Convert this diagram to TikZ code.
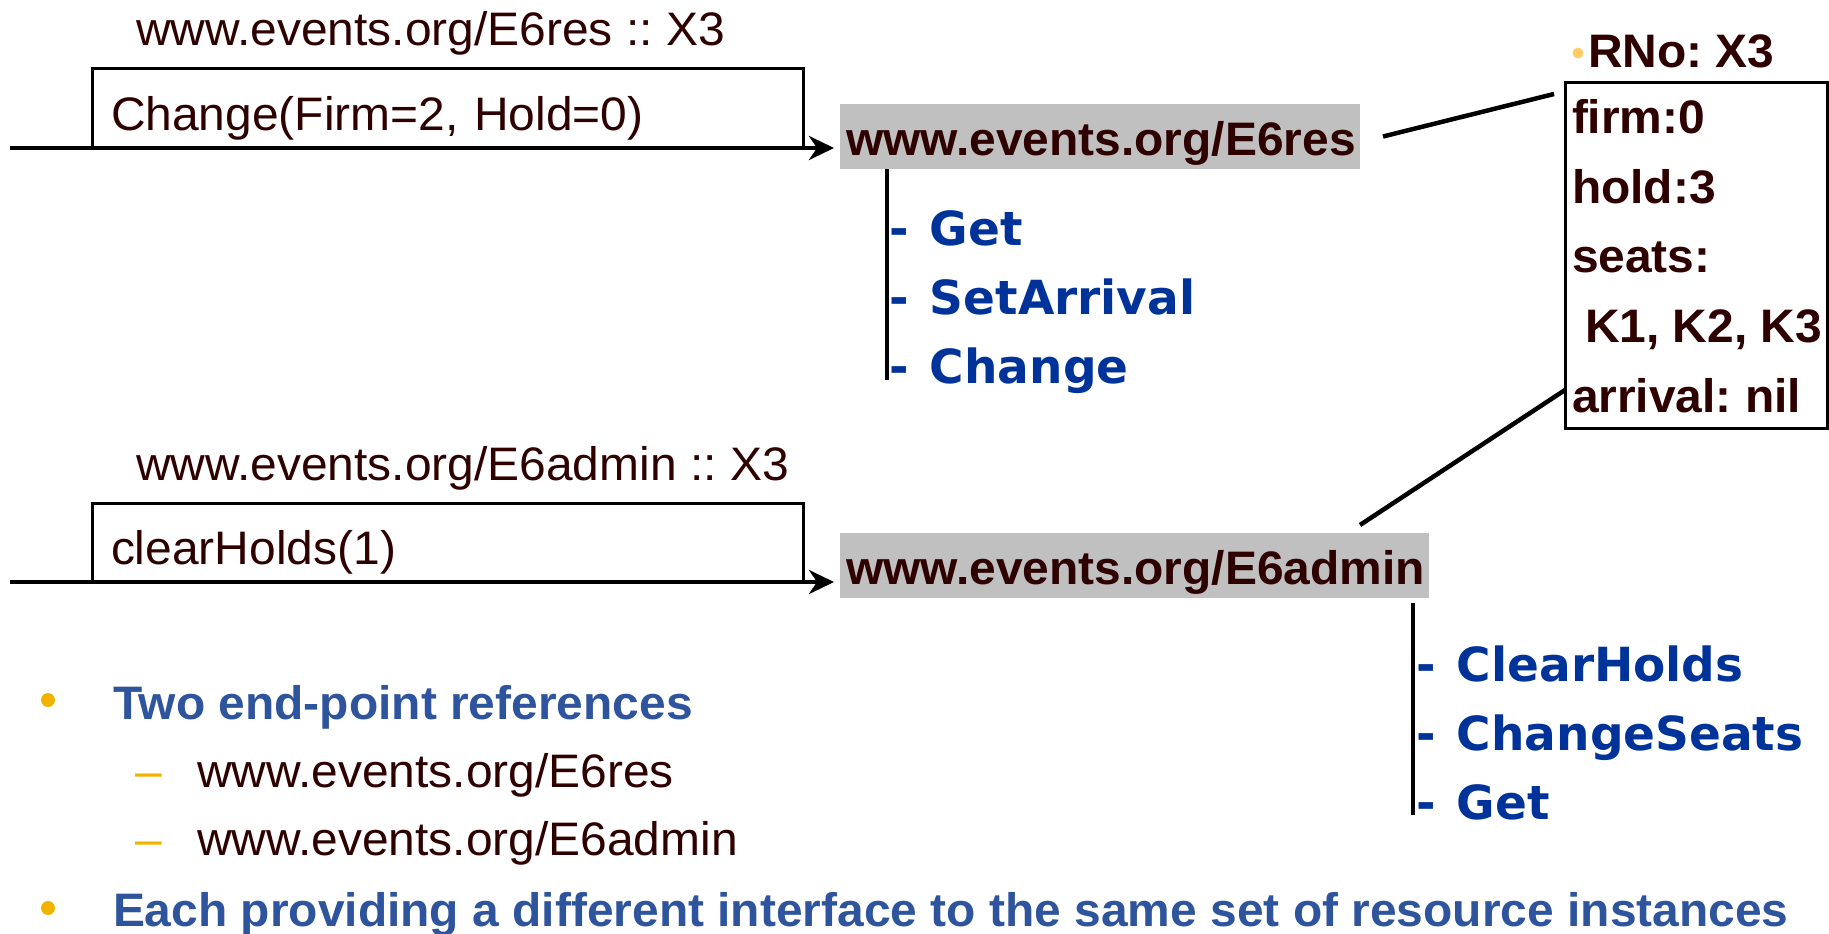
\documentclass[tikz,border=0pt]{standalone}
\usepackage{fontspec}
\setmainfont{Liberation Sans}[FakeStretch=1.02]
\newfontfamily\verd{DejaVu Sans}
\usetikzlibrary{arrows.meta,calc}
\definecolor{ink}{HTML}{2E0000}
\definecolor{refgray}{HTML}{C0C0C0}
\definecolor{opblue}{HTML}{003399}
\definecolor{bulletblue}{HTML}{2D549C}
\definecolor{bulletorange}{HTML}{F2B300}
\definecolor{dotorange}{HTML}{FFCC66}
\frenchspacing

\begin{document}
\begin{tikzpicture}[x=1pt,y=-1pt,
  every node/.style={inner sep=0pt, outer sep=0pt},
  txt/.style={anchor=base west, text=ink, font=\fontsize{47}{56}\selectfont},
  btxt/.style={anchor=base west, text=ink, font=\fontsize{47}{56}\selectfont\bfseries},
  op/.style={anchor=base west, text=opblue, font=\fontsize{47}{56}\selectfont\verd\bfseries},
  bullet/.style={anchor=base west, text=bulletblue, font=\fontsize{47}{56}\selectfont\bfseries},
  dashmark/.style={anchor=base west, text=bulletorange, font=\fontsize{47}{56}\selectfont},
  callbox/.style={draw=black, line width=3pt, anchor=north west, text=ink,
    font=\fontsize{47}{56}\selectfont, align=left, text width=673pt,
    inner xsep=19pt, inner ysep=0pt, text height=61pt, text depth=18pt},
  graybox/.style={fill=refgray, anchor=north west, text=ink,
    font=\fontsize{47}{56}\selectfont\bfseries, align=left,
    inner xsep=6pt, inner ysep=9pt, text height=42pt, text depth=5pt},
  flow/.style={line width=4.5pt, -{Stealth[length=25pt,width=24pt,inset=8pt]}, shorten >=6pt},
  link/.style={line width=4.5pt},
  stem/.style={line width=4pt},
]
\useasboundingbox (0,0) rectangle (1829,934);
\newcommand\opgap{-\kern5pt\ }

% ---------- first end-point reference ----------
\node[txt] (lab1) at (136,46) {www.events.org/E6res :: X3};
\node[callbox] (call1) at (92,69) {Change(Firm=2, Hold=0)};
\node[graybox, text width=508pt] (e6res) at (840,104) {www.events.org/E6res};
\coordinate (src1) at (10,148);
\draw[flow] (src1) -- (e6res.west |- src1);
\draw[stem] ($(e6res.south west)+(47,0)$) -- ++(0,211);
\node[op] (op1a) at (889,245) {\opgap Get};
\node[op] (op1b) at (889,314) {\opgap SetArrival};
\node[op] (op1c) at (889,383) {\opgap Change};

% ---------- second end-point reference ----------
\node[txt] (lab2) at (136,480) {www.events.org/E6admin :: X3};
\node[callbox] (call2) at (92,503) {clearHolds(1)};
\node[graybox, text width=577pt] (e6admin) at (840,533) {www.events.org/E6admin};
\coordinate (src2) at (10,582);
\draw[flow] (src2) -- (e6admin.west |- src2);
\draw[stem] ($(e6admin.south west)+(573,5)$) -- ++(0,212);
\node[op] (op2a) at (1416,681) {\opgap ClearHolds};
\node[op] (op2b) at (1416,750) {\opgap ChangeSeats};
\node[op] (op2c) at (1416,819) {\opgap Get};

% ---------- shared resource instance ----------
\node[draw=black, line width=3pt, anchor=north west, minimum width=262pt, minimum height=345pt] (state) at (1565,83) {};
\fill[dotorange] (1578,53) circle (5.5pt);
\node[btxt] (rno) at (1588,68) {RNo: X3};
\node[btxt] (sfirm) at (1572,133) {firm:0};
\node[btxt] (shold) at (1572,203) {hold:3};
\node[btxt] (sseats) at (1572,272) {seats:};
\node[btxt] (sk) at (1585,342) {K1, K2, K3};
\node[btxt] (sarr) at (1572,412) {arrival: nil};

\draw[link] ($(e6res.east)+(23,0)$) -- ($(state.north west)+(-11,11)$);
\draw[link] ($(e6admin.north east)+(-69,-8)$) -- ($(state.south west)+(0,-38)$);

% ---------- bullet list ----------
\fill[bulletorange] (48,700) circle (7pt);
\node[bullet] (b1) at (113,719) {Two end-point references};
\node[dashmark] (d1) at (135,787) {–};
\node[txt] (s1) at (197,787) {www.events.org/E6res};
\node[dashmark] (d2) at (135,855) {–};
\node[txt] (s2) at (197,855) {www.events.org/E6admin};
\fill[bulletorange] (48,908) circle (7pt);
\node[bullet] (b2) at (113,926) {Each providing a different interface to the same set of resource instances};
\end{tikzpicture}
\end{document}
